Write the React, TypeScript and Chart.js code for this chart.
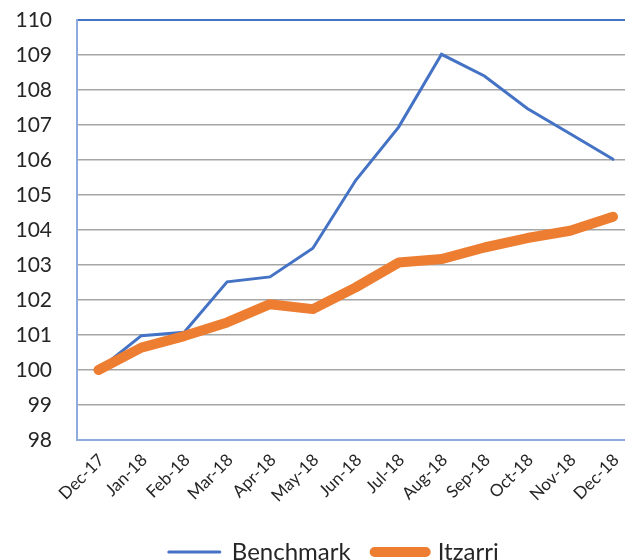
import React, { useEffect, useRef } from "react";
import { Chart, registerables } from "chart.js";

Chart.register(...registerables);

const categories = ["Dec-17", "Jan-18", "Feb-18", "Mar-18", "Apr-18", "May-18", "Jun-18", "Jul-18", "Aug-18", "Sep-18", "Oct-18", "Nov-18", "Dec-18"];
const benchmark = [100, 100.98, 101.08, 102.52, 102.66, 103.48, 105.42, 106.94, 109.02, 108.4, 107.47, 106.75, 106.02];
const itzarri = [100, 100.64, 100.97, 101.36, 101.88, 101.74, 102.36, 103.07, 103.17, 103.5, 103.77, 103.98, 104.38];
const yMin = 98;
const yMax = 110;
const yStep = 1;

const FONT = "Lato, 'Open Sans', sans-serif";

const legendShift = {
  id: "legendShift",
  afterLayout(chart: any) {
    const l = chart.legend;
    if (l) {
      l.left += 16.5;
      l.right += 16.5;
    }
  },
};

export default function App() {
  const ref = useRef<HTMLCanvasElement | null>(null);

  useEffect(() => {
    if (!ref.current) return;
    const chart = new Chart(ref.current, {
      type: "line",
      data: {
        labels: categories,
        datasets: [
          {
            label: "Benchmark",
            data: benchmark,
            borderColor: "#4472C4",
            backgroundColor: "#4472C4",
            borderWidth: 3,
            pointRadius: 0,
            tension: 0,
            order: 2,
            borderCapStyle: "round",
            borderJoinStyle: "miter",
          },
          {
            label: "Itzarri",
            data: itzarri,
            borderColor: "#ED7D31",
            backgroundColor: "#ED7D31",
            borderWidth: 10,
            pointRadius: 0,
            tension: 0,
            order: 1,
            borderCapStyle: "round",
            borderJoinStyle: "round",
          },
        ],
      },
      plugins: [legendShift],
      options: {
        responsive: false,
        animation: false,
        layout: { padding: { top: 20, right: 32.5, left: 0, bottom: 0 } },
        plugins: {
          tooltip: { enabled: false },
          legend: {
            position: "bottom",
            labels: {
              usePointStyle: true,
              pointStyle: "line",
              pointStyleWidth: 51,
              padding: 24,
              color: "#262626",
              font: { family: FONT, size: 24 },
              sort: (a: any, b: any) => a.datasetIndex - b.datasetIndex,
              generateLabels: (c: any) => {
                const items = Chart.defaults.plugins.legend.labels.generateLabels(c);
                return items.map((it: any) => {
                  const ds = c.data.datasets[it.datasetIndex];
                  return {
                    ...it,
                    lineWidth: ds.borderWidth,
                    strokeStyle: ds.borderColor,
                    fillStyle: ds.borderColor,
                    lineCap: "round",
                    pointStyle: "line",
                  };
                });
              },
            },
          },
        },
        scales: {
          x: {
            offset: true,
            grid: { display: false, drawTicks: false, offset: true },
            border: { display: true, color: "#8FAADC", width: 2 },
            ticks: {
              minRotation: 45,
              maxRotation: 45,
              padding: 10,
              labelOffset: 3,
              color: "#262626",
              font: { family: FONT, size: 17 },
              autoSkip: false,
            },
            afterFit: (s: any) => {
              s.height = 76;
            },
          },
          y: {
            min: yMin,
            max: yMax,
            grid: {
              drawTicks: false,
              lineWidth: (ctx: any) => (ctx.tick && ctx.tick.value === yMax ? 2 : 1.5),
              color: (ctx: any) =>
                ctx.tick && ctx.tick.value === yMax
                  ? "#4472C4"
                  : ctx.tick && ctx.tick.value === yMin
                  ? "#8FAADC"
                  : "#A6A6A6",
            },
            border: { display: true, color: "#8FAADC", width: 2 },
            ticks: {
              stepSize: yStep,
              padding: 25,
              color: "#262626",
              font: { family: FONT, size: 21 },
            },
            afterFit: (s: any) => {
              s.width = 77;
              s.paddingTop = 10;
              s.paddingBottom = 10;
            },
          },
        },
      },
    });
    return () => chart.destroy();
  }, []);

  return (
    <div
      style={{
        position: "fixed",
        left: 0,
        top: 0,
        width: 625,
        height: 560,
        overflow: "hidden",
        background: "#ffffff",
      }}
    >
      <canvas ref={ref} width={667} height={574} style={{ display: "block" }} />
    </div>
  );
}
